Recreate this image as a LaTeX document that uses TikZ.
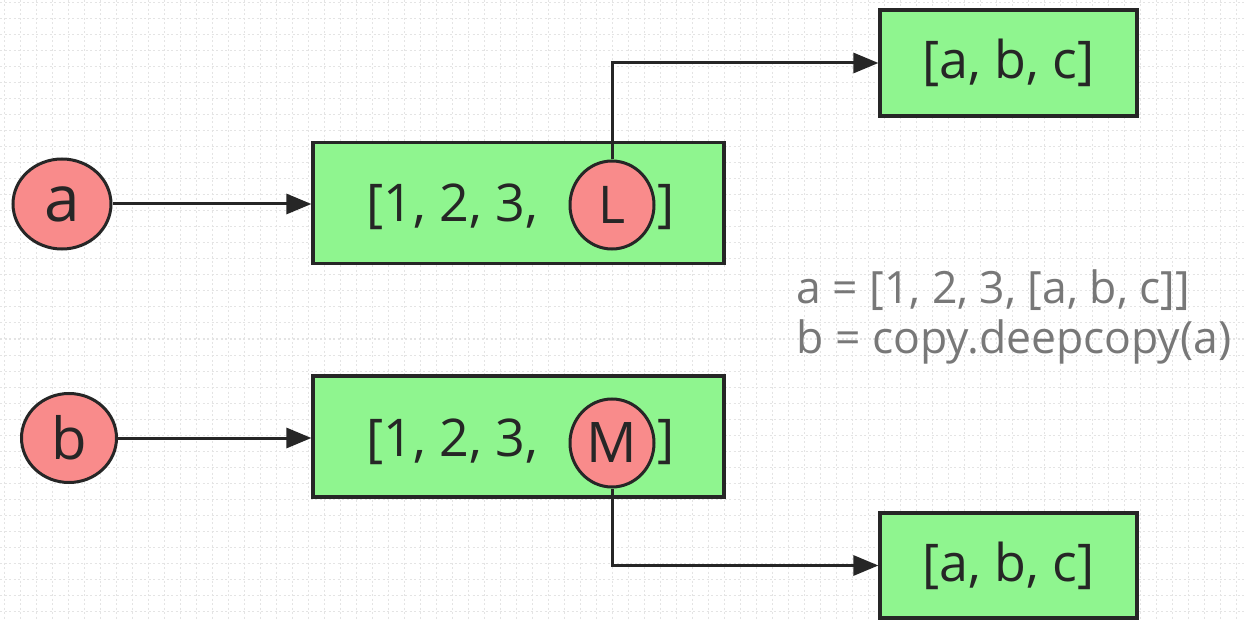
\documentclass[tikz,border=0pt]{standalone}
\usepackage{fontspec}
\setmainfont{Open Sans}
\usetikzlibrary{arrows.meta,shapes.geometric}
\definecolor{boxgreen}{HTML}{8FF58F}
\definecolor{refred}{HTML}{F98B8B}
\definecolor{edge}{HTML}{262626}
\definecolor{gridc}{HTML}{E4E4E4}
\definecolor{codegray}{HTML}{787878}
\tikzset{
  listbox/.style={draw=edge, line width=3.2pt, fill=boxgreen, inner sep=0pt, text=edge},
  varnode/.style={ellipse, draw=edge, line width=3pt, fill=refred, inner sep=0pt, text=edge},
  boxtext/.style={text=edge, font=\fontsize{52}{60}\selectfont, inner sep=0pt},
  link/.style={draw=edge, line width=3pt, -{Triangle[length=25pt,width=20pt]}},
  gridline/.style={draw=gridc, line width=1pt, dash pattern=on 2pt off 2.5pt},
}
\begin{document}
\begin{tikzpicture}[x=1pt,y=-1pt]
\useasboundingbox (0,0) rectangle (1245,620);
\fill[white] (0,0) rectangle (1245,620);
% faint dotted background grid
\foreach \gx in {4,20,...,1245} \draw[gridline] (\gx,0) -- (\gx,620);
\foreach \gy in {3,19,...,620} \draw[gridline] (0,\gy) -- (1245,\gy);

% variable a and the list it names
\node[varnode, minimum width=98pt, minimum height=90pt, font=\fontsize{64}{70}\selectfont] (a) at (62,204) {a};
\node[listbox, minimum width=411pt, minimum height=121pt] (outerA) at (518.5,203) {};
\node[boxtext, anchor=base west] (itemsA) at (366,222) {[1, 2, 3,};
\node[varnode, minimum width=84pt, minimum height=88pt, font=\fontsize{52}{60}\selectfont] (L) at (612,205) {L};
\node[boxtext, anchor=base west] (closeA) at (657,222) {]};
\node[listbox, minimum width=257pt, minimum height=106pt, font=\fontsize{52}{60}\selectfont] (innerA) at (1008.5,63) {[a, b, c]};

% variable b and its deep copy
\node[varnode, minimum width=95pt, minimum height=89pt, font=\fontsize{58}{70}\selectfont] (b) at (69,438) {b};
\node[listbox, minimum width=411pt, minimum height=121pt] (outerB) at (518.5,436.5) {};
\node[boxtext, anchor=base west] (itemsB) at (366,456) {[1, 2, 3,};
\node[varnode, minimum width=84pt, minimum height=88pt, font=\fontsize{56}{60}\selectfont] (M) at (612,443) {M};
\node[boxtext, anchor=base west] (closeB) at (657,456) {]};
\node[listbox, minimum width=257pt, minimum height=105pt, font=\fontsize{52}{60}\selectfont] (innerB) at (1008.5,565.5) {[a, b, c]};

% source code (base anchor sits on the last line)
\node[anchor=base west, text=codegray, font=\fontsize{44.5}{50}\selectfont, align=left, inner sep=0pt] (code) at (796,353)
  {a = [1, 2, 3, [a, b, c]]\\b = copy.deepcopy(a)};

% references
\draw[link] (a.east) -- (a.east -| outerA.west);
\draw[link] (b.east) -- (b.east -| outerB.west);
\draw[link] (L.north) |- (innerA.west);
\draw[link] (M.south) |- (innerB.west);
\end{tikzpicture}
\end{document}
